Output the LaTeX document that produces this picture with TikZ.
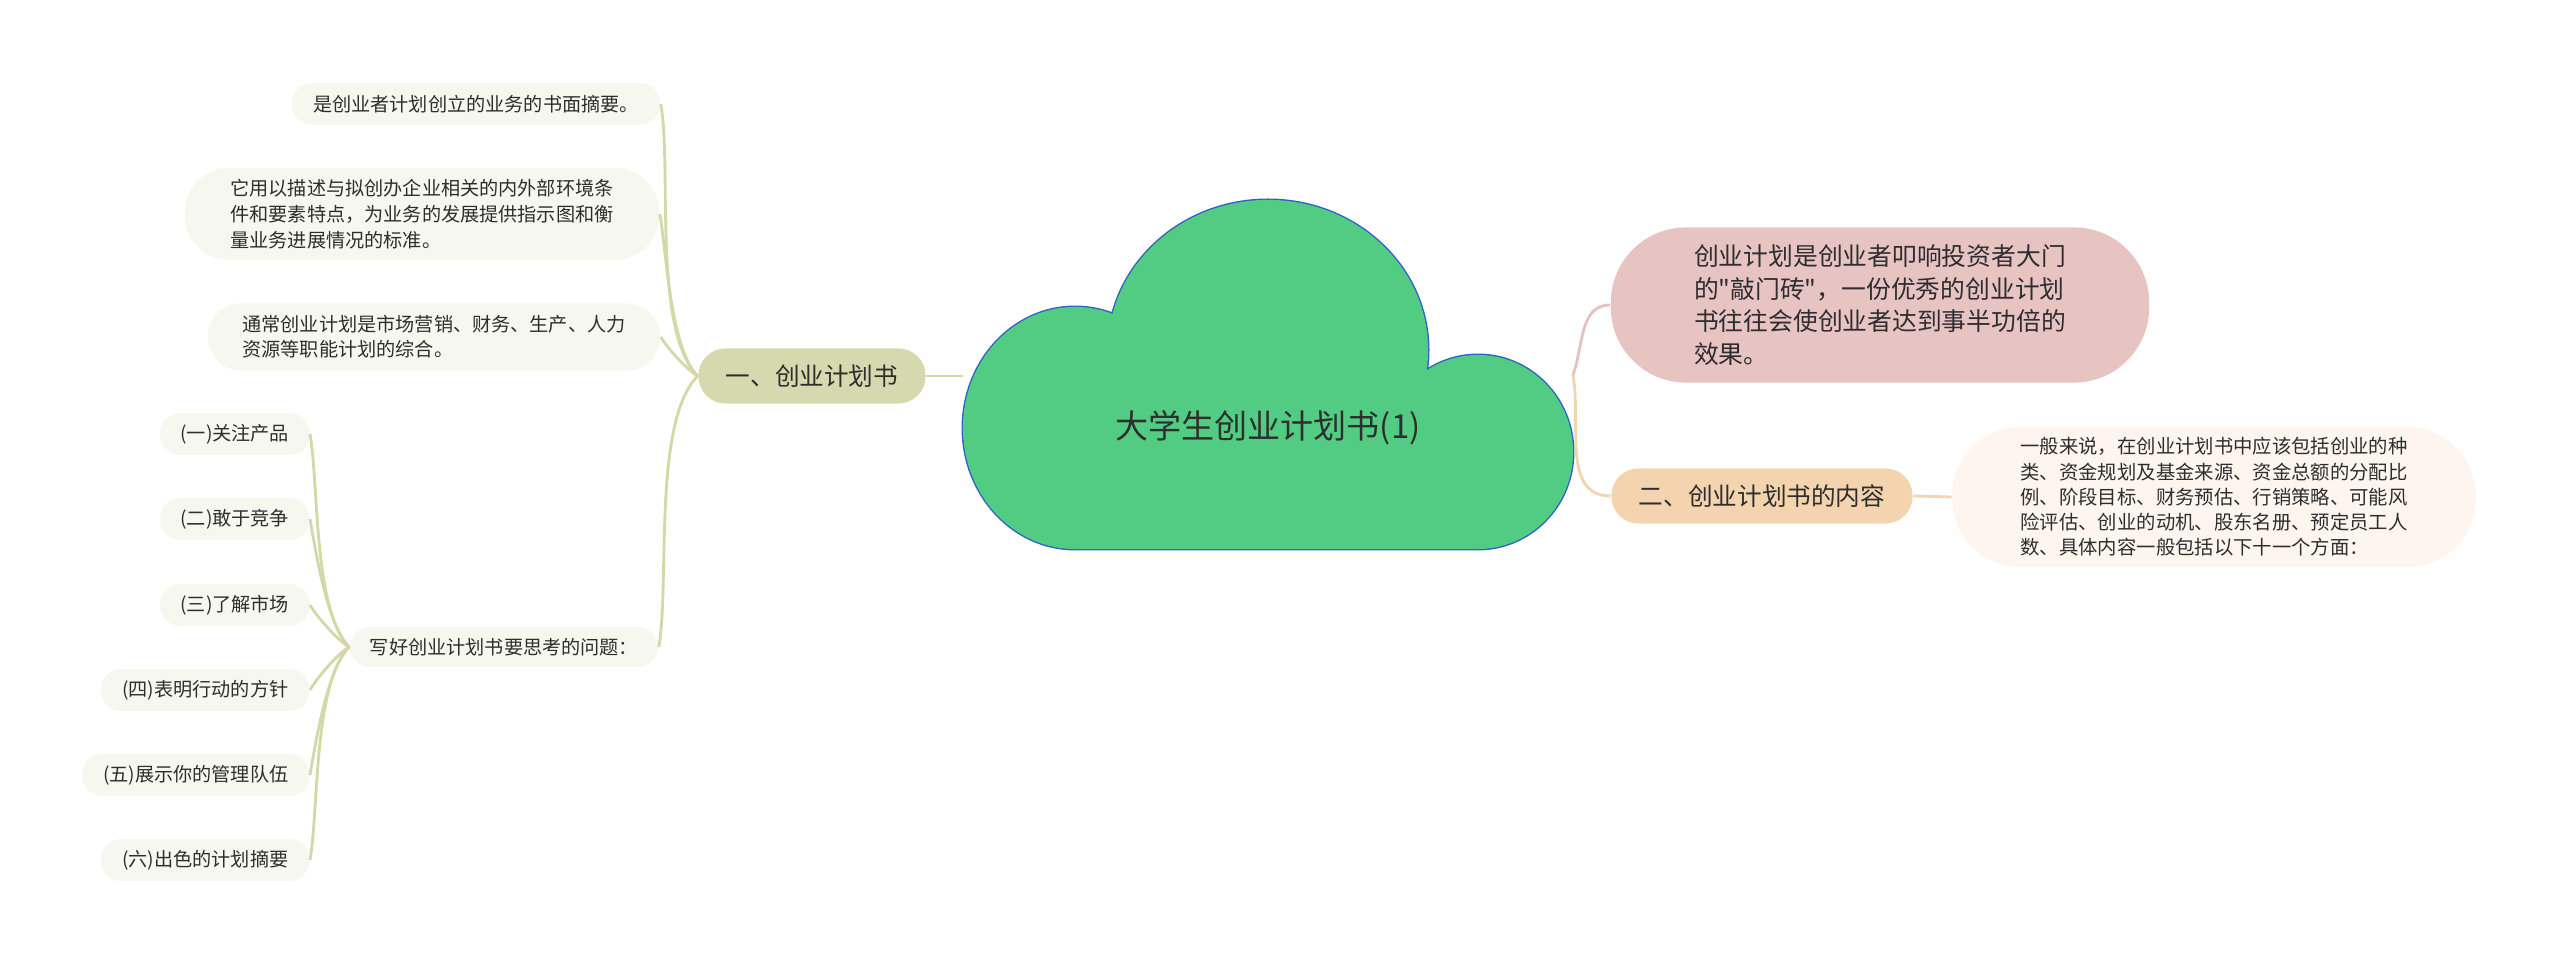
\documentclass[tikz,border=0pt]{standalone}
\usepackage{fontspec}
\newfontfamily\cjk{Noto Sans CJK SC}

\definecolor{cloudgreen}{HTML}{52CC82}
\definecolor{cloudedge}{HTML}{2F62C2}
\definecolor{olivebg}{HTML}{D6D9AD}
\definecolor{oliveline}{HTML}{D3D8A6}
\definecolor{leafbg}{HTML}{F6F7EF}
\definecolor{pinkbg}{HTML}{E7C3C2}
\definecolor{pinkline}{HTML}{E3C2C1}
\definecolor{peachbg}{HTML}{F4D4AF}
\definecolor{peachline}{HTML}{F2D5B0}
\definecolor{creambg}{HTML}{FDF5EE}
\definecolor{ink}{HTML}{2E2E2E}

\tikzset{
  leaf/.style={fill=leafbg, text=ink, rounded corners=0.2cm, minimum height=0.42cm,
    align=left, inner sep=0pt, font=\fontsize{5.45pt}{7.4pt}\selectfont},
  branch/.style={rounded corners=0.27cm, minimum height=0.55cm, text=ink,
    inner sep=0pt, font=\fontsize{7pt}{9pt}\selectfont},
  oline/.style={draw=oliveline, line width=0.8pt},
  pline/.style={draw=pinkline, line width=0.8pt},
  kline/.style={draw=peachline, line width=0.8pt}
}

\begin{document}
\cjk
\begin{tikzpicture}[x=0.01cm, y=-0.01cm]
\useasboundingbox (0,0) rectangle (2560,965);

\draw[cloudedge, line width=0.8pt]
  (1075,428) ellipse [x radius=1.12cm, y radius=1.21cm]
  (1268,350) ellipse [x radius=1.6cm, y radius=1.5cm]
  (1478,452) ellipse [x radius=0.95cm, y radius=0.97cm]
  (1075,430) rectangle (1478,549);
\fill[cloudgreen]
  (1075,428) ellipse [x radius=1.12cm, y radius=1.21cm]
  (1268,350) ellipse [x radius=1.6cm, y radius=1.5cm]
  (1478,452) ellipse [x radius=0.95cm, y radius=0.97cm]
  (1075,430) rectangle (1478,549);
\node[text=ink, font=\fontsize{9.4pt}{11pt}\selectfont] (root) at (1268,428) {大学生创业计划书(1)};
\coordinate (rootW) at (963,376);
\coordinate (rootE) at (1573,375);

\node[branch, fill=olivebg, minimum width=2.27cm] (part1) at (812,376) {一、创业计划书};
\node[leaf, minimum width=3.68cm] (summary) at (476,104) {是创业者计划创立的业务的书面摘要。};
\node[leaf, minimum width=4.74cm, minimum height=0.92cm, rounded corners=0.44cm] (describe) at (422,214)
  {它用以描述与拟创办企业相关的内外部环境条\\件和要素特点，为业务的发展提供指示图和衡\\量业务进展情况的标准。};
\node[leaf, minimum width=4.52cm, minimum height=0.67cm, rounded corners=0.33cm, font=\fontsize{5.45pt}{7.1pt}\selectfont] (combine) at (434,337)
  {通常创业计划是市场营销、财务、生产、人力\\资源等职能计划的综合。};
\node[leaf, minimum width=3.08cm, minimum height=0.4cm] (think) at (504,647) {写好创业计划书要思考的问题：};

\node[leaf, anchor=east, minimum width=1.49cm] (q1) at (310,434) {(一)关注产品};
\node[leaf, anchor=east, minimum width=1.49cm] (q2) at (310,519) {(二)敢于竞争};
\node[leaf, anchor=east, minimum width=1.49cm] (q3) at (310,605) {(三)了解市场};
\node[leaf, anchor=east, minimum width=2.08cm] (q4) at (310,690) {(四)表明行动的方针};
\node[leaf, anchor=east, minimum width=2.27cm] (q5) at (310,775) {(五)展示你的管理队伍};
\node[leaf, anchor=east, minimum width=2.08cm] (q6) at (310,860) {(六)出色的计划摘要};

\node[branch, fill=pinkbg, minimum width=5.38cm, minimum height=1.55cm, rounded corners=0.75cm,
  align=left, font=\fontsize{7.05pt}{9.3pt}\selectfont] (intro) at (1880,305)
  {创业计划是创业者叩响投资者大门\\的"敲门砖"，一份优秀的创业计划\\书往往会使创业者达到事半功倍的\\效果。};
\node[branch, fill=peachbg, minimum width=3.01cm] (part2) at (1762,496) {二、创业计划书的内容};
\node[leaf, fill=creambg, minimum width=5.23cm, minimum height=1.4cm, rounded corners=0.68cm,
  font=\fontsize{5.5pt}{7.2pt}\selectfont] (detail) at (2214,497)
  {一般来说，在创业计划书中应该包括创业的种\\类、资金规划及基金来源、资金总额的分配比\\例、阶段目标、财务预估、行销策略、可能风\\险评估、创业的动机、股东名册、预定员工人\\数、具体内容一般包括以下十一个方面：};

\draw[oline] (rootW) -- (part1.east);
\foreach \n/\o/\i in {summary/135/-80,describe/135/-80,combine/150/-60,think/-135/80}
  \draw[oline] (part1.west) to[out=\o,in=\i,looseness=0.6] (\n.east);
\foreach \n/\o/\i in {q1/135/-80,q2/135/-80,q3/150/-60,q4/-150/60,q5/-135/80,q6/-135/80}
  \draw[oline] (think.west) to[out=\o,in=\i,looseness=0.6] (\n.east);
\draw[pline] (rootE) to[out=70,in=180] (intro.west);
\draw[kline] (rootE) to[out=-80,in=180] (part2.west);
\draw[kline] (part2.east) -- (detail.west);
\end{tikzpicture}
\end{document}
